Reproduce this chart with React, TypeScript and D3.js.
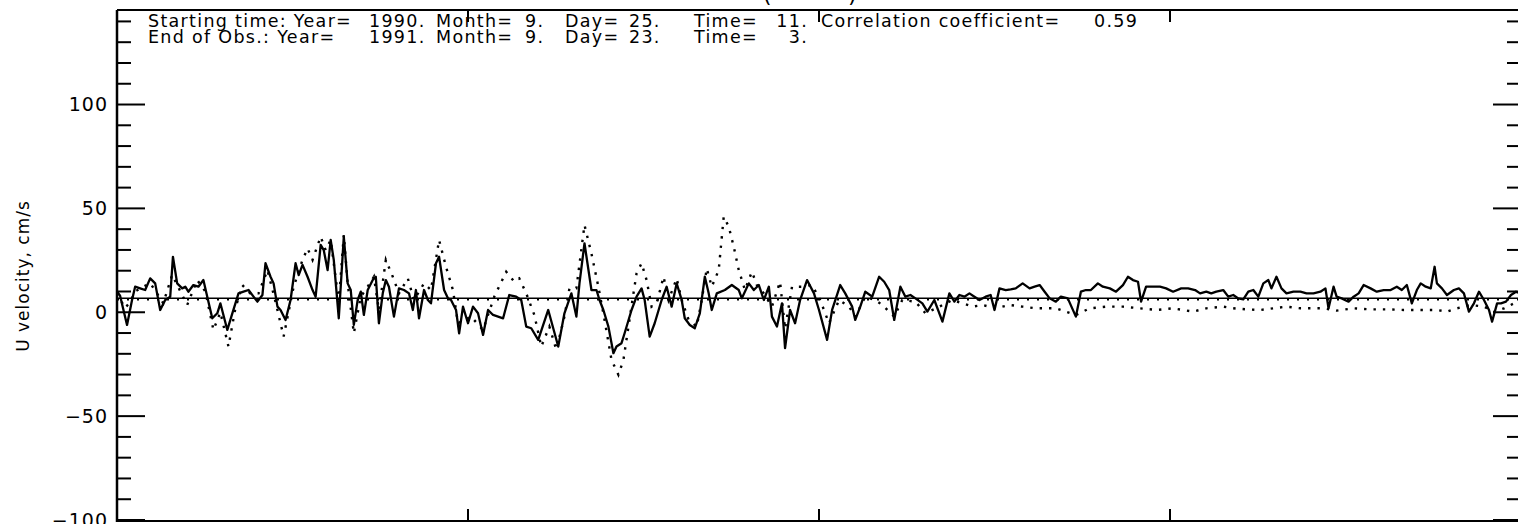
import React from "react";
import * as d3 from "d3";

// ---- record header -------------------------------------------------------
const startTime = { year: 1990, month: 9, day: 25, time: 11 };
const endTime = { year: 1991, month: 9, day: 23, time: 3 };
const correlation = 0.59;

// ---- axes ----------------------------------------------------------------
const yMajorTicks = [-100, -50, 0, 50, 100];
const yMinorTicks = [-90, -80, -70, -60, -40, -30, -20, -10, 10, 20, 30, 40, 60, 70, 80, 90, 110, 120, 130, 140];
const xMajorTicks = [91, 182, 273];
const yLabel = "U velocity, cm/s";

// record means (cm/s)
const meanSolid = 6.7;
const meanDotted = 6.2;

// ---- U velocity, solid record: [day since start, cm/s] ---------------------
const uSolid: [number, number][] = [
  [0.0, 10], [0.8, 8], [2.6, -6.1], [3.9, 5.9], [4.7, 12.3], [6.0, 11.5], [7.3, 10.7], [8.6, 16.3],
  [9.9, 13.9], [11.2, 1.1], [12.5, 5.9], [13.8, 7.5], [14.5, 26.7], [15.6, 13.9], [16.9, 11.5], [17.7, 12.3],
  [18.5, 9.9], [19.8, 13.1], [21.1, 12.3], [22.4, 15.5], [23.4, 7.5], [24.7, -2.9], [26.0, -0.5], [26.8, 4.3],
  [28.6, -8.5], [29.9, -0.5], [31.5, 9.1], [32.8, 9.9], [34.1, 10.7], [35.4, 7.5], [36.4, 5.1], [37.7, 8.3],
  [38.5, 23.6], [39.8, 17.1], [40.6, 13.9], [41.6, 2.7], [42.4, 1.1], [43.7, -3.7], [45.0, 5.9], [46.3, 23.6],
  [47.1, 17.9], [48.1, 22.8], [49.4, 17.1], [50.7, 10.7], [51.5, 7.5], [52.8, 32.4], [53.6, 29.9], [54.6, 20.3],
  [55.4, 34.8], [56.2, 25.2], [57.5, -2.9], [58.8, 36.4], [59.8, 13.9], [60.6, 10.7], [61.4, -6.1], [62.4, 5.9],
  [63.2, 9.9], [64.0, -1.3], [65.0, 10.7], [66.3, 15.5], [67.1, 17.1], [67.9, -5.3], [68.9, 9.1], [69.7, 15.5],
  [70.5, 12.3], [71.8, -2.1], [73.1, 11.5], [74.4, 10.7], [75.7, 9.1], [76.7, 1.1], [77.5, 10.7], [78.3, -2.9],
  [79.6, 10.7], [80.6, 5.9], [81.4, 4.3], [82.7, 23.6], [83.5, 26.7], [84.8, 10.7], [85.8, 6.7], [86.6, 5.9],
  [87.9, 1.1], [88.7, -10.1], [89.7, 2.7], [91.0, -5.3], [92.3, 2.7], [93.6, -0.5], [94.9, -10.9], [96.2, 1.1],
  [97.5, -1.3], [98.8, -2.1], [100.1, -2.9], [101.7, 8.3], [103.5, 7.5], [104.8, 5.9], [106.1, -6.9], [107.4, -7.7],
  [109.2, -13.3], [111.8, 1.1], [114.4, -16.5], [116.0, -0.5], [117.8, 9.1], [119.1, -2.1], [119.9, 13.9], [121.2, 33.2],
  [123.0, 10.7], [124.3, 10.7], [125.1, 5.9], [126.1, 1.1], [127.4, -6.9], [128.7, -19.7], [129.5, -16.5], [130.8, -14.9],
  [131.6, -10.1], [133.4, 1.1], [134.7, 7.5], [136.0, 11.5], [136.8, 5.9], [138.1, -11.7], [139.4, -5.3], [141.2, 5.9],
  [142.5, 12.3], [143.8, 2.7], [145.1, 13.9], [146.4, 5.9], [147.2, -2.9], [148.5, -6.1], [149.8, -7.7], [151.1, -0.5],
  [152.4, 17.1], [153.4, 9.1], [154.2, 1.1], [155.5, 9.1], [157.6, 10.7], [159.4, 13.1], [161.2, 10.7], [162.0, 6.7],
  [163.8, 13.9], [165.1, 10.7], [166.4, 13.1], [167.7, 5.9], [169.0, 12.3], [169.8, -2.1], [171.1, -6.9], [172.4, 4.3],
  [173.2, -17.3], [174.5, 1.1], [175.8, -5.3], [177.1, 5.9], [178.9, 15.5], [180.7, 9.1], [182.0, 1.1], [184.1, -13.3],
  [185.4, 1.1], [187.5, 13.1], [188.8, 9.1], [190.6, 2.7], [191.4, -3.7], [192.7, 2.7], [194.0, 9.9], [195.8, 7.5],
  [197.6, 17.1], [198.9, 14.7], [200.2, 10.7], [201.5, -3.7], [203.1, 12.3], [204.4, 7.5], [205.7, 8.3], [207.0, 6.7],
  [208.8, 4.3], [210.1, 0.3], [211.9, 5.9], [214.0, -4.5], [215.8, 9.1], [217.1, 5.1], [218.4, 8.3], [219.7, 7.5],
  [221.0, 9.1], [222.3, 7.5], [223.6, 5.9], [225.2, 7.5], [226.5, 8.3], [227.5, 1.1], [228.8, 11.5], [230.4, 10.7],
  [231.7, 11.0], [233.0, 11.5], [234.8, 13.9], [236.6, 11.5], [237.9, 12.3], [239.2, 13.1], [240.5, 9.9], [241.8, 6.7],
  [243.4, 5.1], [244.7, 7.5], [246.5, 6.7], [248.6, -2.1], [249.9, 9.9], [251.2, 10.7], [252.5, 10.7], [254.3, 13.9],
  [255.6, 12.3], [257.4, 11.5], [259.0, 9.9], [260.8, 13.1], [262.1, 17.1], [263.4, 15.5], [264.7, 14.7], [265.5, 5.1],
  [266.8, 12.3], [268.6, 12.3], [270.4, 12.3], [272.0, 11.5], [273.8, 9.9], [275.9, 11.5], [277.7, 11.5], [279.5, 10.7],
  [280.8, 9.1], [282.4, 9.9], [283.7, 9.1], [285.0, 9.9], [286.8, 10.7], [288.1, 7.5], [289.4, 8.3], [290.7, 6.7],
  [292.0, 6.2], [293.3, 9.9], [294.6, 10.7], [295.9, 7.5], [297.2, 13.9], [298.5, 15.5], [299.3, 11.5], [300.6, 17.1],
  [301.9, 11.5], [303.2, 9.1], [305.0, 9.9], [306.8, 9.9], [308.4, 9.1], [310.2, 9.1], [312.0, 9.9], [313.3, 11.5],
  [314.1, 1.9], [315.4, 12.3], [316.2, 7.5], [317.5, 6.7], [319.3, 5.1], [320.6, 7.5], [321.9, 9.1], [323.2, 13.1],
  [325.0, 11.5], [326.6, 9.9], [328.4, 10.7], [330.2, 10.7], [331.8, 12.3], [333.1, 10.7], [334.4, 13.1], [335.7, 4.3],
  [337.0, 10.7], [338.0, 13.9], [339.3, 12.3], [340.6, 11.5], [341.6, 21.9], [342.2, 13.9], [343.5, 11.5], [344.8, 8.3],
  [346.6, 10.7], [347.9, 11.5], [349.2, 9.1], [350.5, 0.3], [351.8, 4.3], [353.1, 9.9], [354.4, 5.9], [355.7, 1.1],
  [356.5, -4.5], [357.8, 4.3], [358.8, 4.3], [360.1, 5.1], [361.4, 8.3], [362.7, 9.9], [363.7, 9.1],
];

// ---- U velocity, dotted record: [day since start, cm/s] --------------------
const uDotted: [number, number][] = [
  [0.0, 9], [2.1, 2], [3.4, 5], [4.7, 10], [6.5, 12], [8.6, 14], [10.4, 9], [12.0, 4.3],
  [14.3, 18], [15.9, 12], [18.2, 3.5], [20.8, 15.5], [22.9, 10], [25.0, -8.5], [26.8, 0], [28.9, -16.5],
  [30.7, 2], [32.5, 13.1], [34.6, 9], [36.7, 9.1], [39.0, 20.3], [41.1, 5], [43.2, -11.7], [45.8, 12.3],
  [48.1, 25.2], [49.4, 30.7], [50.7, 25.2], [52.8, 36.4], [54.1, 29.9], [55.4, 34.8], [57.5, 5], [58.8, 37.2],
  [59.8, 14], [61.4, -10.1], [63.2, 7.5], [65.0, 12.3], [66.6, 17.1], [67.9, 1], [69.7, 25.2], [71.5, 17.1],
  [73.1, 9], [75.4, 16.3], [77.0, 5.9], [79.6, 13.9], [81.4, 10.7], [83.5, 34.8], [85.3, 21.9], [87.1, 10.7],
  [88.4, -5.3], [91.8, -2.1], [94.9, -8.5], [97.8, 7.5], [100.9, 19.5], [103.0, 14.7], [104.3, 16.3], [106.1, 9.1],
  [108.2, -1.3], [110.0, -16.5], [112.1, -6.9], [113.9, -18.1], [116.0, -2.1], [117.3, 11.5], [119.1, 11.5], [121.2, 42.0],
  [123.0, 28.3], [124.8, 12.3], [126.4, -3.7], [128.2, -22.9], [130.0, -30.1], [131.3, -22.9], [132.6, -6.9], [133.9, 9.1],
  [134.7, 18.7], [136.0, 23.6], [137.3, 15.5], [138.6, 2.7], [139.9, 4.3], [141.7, 17.1], [143.0, 5.9], [145.1, 16.3],
  [146.4, 5.9], [148.2, -3.7], [150.3, -6.9], [151.6, 5.9], [152.9, 21.1], [154.2, 12.3], [156.0, 20.3], [157.3, 46.0],
  [158.6, 41.2], [159.9, 31.5], [161.2, 20.3], [162.8, 10.7], [164.6, 19.5], [165.9, 13.1], [167.7, 9.1], [169.8, 2.7],
  [171.9, 14.7], [173.2, -8], [175.0, 12.3], [177.6, 12.3], [180.2, 13.1], [182.3, 5.9], [184.6, -5.3], [187.2, 5.9],
  [189.8, 2.7], [191.4, -2.1], [194.0, 7.5], [196.6, 5.9], [198.4, 3.5], [201.5, -2.1], [203.6, 5.9], [207.0, 5.1],
  [209.6, -0.5], [213.2, 2.7], [216.6, 5.9], [219.2, 4.3], [221.8, 2.7], [224.4, 3.5], [227.8, 1.9], [231.4, 3.5],
  [234.8, 2.7], [238.2, 1.9], [243.4, 1.9], [248.6, -1.3], [252.2, 1.9], [256.4, 2.7], [260.8, 2.7], [265.2, 1.9],
  [269.4, 1.1], [273.8, 1.9], [276.4, 1.1], [279.0, 0.3], [282.4, 1.9], [286.8, 2.7], [289.4, 1.9], [292.8, 1.4],
  [296.4, 1.1], [299.8, 1.9], [303.2, 2.7], [306.8, 1.9], [310.2, 1.9], [312.8, 1.9], [316.2, 0.8], [320.6, 1.9],
  [325.0, 1.4], [329.2, 1.4], [333.6, 1.1], [338.0, 1.1], [342.2, 1.1], [344.8, 0.3], [347.4, 1.9], [351.0, 3.5],
  [354.4, 2.7], [357.0, 0.3], [359.6, 1.9], [362.2, 4.3], [363.7, 4.3],
];

const WIDTH = 1518;
const HEIGHT = 524;
const FRAME = { left: 117, right: 1521, top: 10, bottom: 520 };
const FONT = "'DejaVu Sans', 'Liberation Sans', sans-serif";

export default function App() {
  const x = d3.scaleLinear().domain([0, 364]).range([FRAME.left, FRAME.right]);
  const y = d3.scaleLinear().domain([-100, 145.5]).range([FRAME.bottom, FRAME.top]);

  const line = d3
    .line<[number, number]>()
    .x((d) => x(d[0]))
    .y((d) => y(d[1]))
    .curve(d3.curveLinear);

  const headerRows = [
    { lead: "Starting time: Year=", t: startTime, withCorrelation: true },
    { lead: "End of Obs.: Year=", t: endTime, withCorrelation: false },
  ];
  // column positions of the header fields
  const col = {
    lead: 148, year: 369, monthLbl: 436, month: 525, dayLbl: 565, day: 629,
    timeLbl: 694, timeEnd: 808, corr: 821, corrVal: 1094,
  };

  return (
    <svg
      width={WIDTH}
      height={HEIGHT}
      style={{ position: "absolute", left: 0, top: 0, background: "#fff" }}
      fontFamily={FONT}
    >
      <defs>
        <clipPath id="plot-area">
          <rect x={FRAME.left} y={FRAME.top} width={FRAME.right - FRAME.left} height={FRAME.bottom - FRAME.top} />
        </clipPath>
      </defs>

      {/* title, mostly above the page */}
      <text x={763} y={2} fontSize={22} fill="#000">(</text>
      <text x={848} y={2} fontSize={22} fill="#000">)</text>

      {/* header */}
      {headerRows.map((r, i) => {
        const by = 27 + i * 16;
        return (
          <g key={i} fontSize={17.5} letterSpacing={1.3} fill="#000">
            <text x={col.lead} y={by}>{r.lead}</text>
            <text x={col.year} y={by}>{`${r.t.year}.`}</text>
            <text x={col.monthLbl} y={by}>Month=</text>
            <text x={col.month} y={by}>{`${r.t.month}.`}</text>
            <text x={col.dayLbl} y={by}>Day=</text>
            <text x={col.day} y={by}>{`${r.t.day}.`}</text>
            <text x={col.timeLbl} y={by}>Time=</text>
            <text x={col.timeEnd} y={by} textAnchor="end">{`${r.t.time}.`}</text>
            {r.withCorrelation && (
              <>
                <text x={col.corr} y={by}>Correlation coefficient=</text>
                <text x={col.corrVal} y={by}>{correlation.toFixed(2)}</text>
              </>
            )}
          </g>
        );
      })}

      {/* series */}
      <g clipPath="url(#plot-area)" fill="none" stroke="#000">
        <line x1={FRAME.left} x2={FRAME.right} y1={y(meanSolid)} y2={y(meanSolid)} strokeWidth={1.5} />
        <line
          x1={FRAME.left}
          x2={FRAME.right}
          y1={y(meanDotted)}
          y2={y(meanDotted)}
          strokeWidth={2}
          strokeDasharray="2 8"
        />
        <path d={line(uDotted) ?? ""} strokeWidth={2.4} strokeDasharray="2.4 7" />
        <path d={line(uSolid) ?? ""} strokeWidth={2.3} strokeLinejoin="round" />
      </g>

      {/* frame */}
      <g stroke="#000" fill="none">
        <line x1={FRAME.left} x2={FRAME.right} y1={FRAME.top} y2={FRAME.top} strokeWidth={2} />
        <line x1={FRAME.left} x2={FRAME.right} y1={FRAME.bottom + 1} y2={FRAME.bottom + 1} strokeWidth={2} />
        <line x1={FRAME.left} x2={FRAME.left} y1={FRAME.top} y2={FRAME.bottom + 2} strokeWidth={2.5} />
        <line x1={FRAME.right} x2={FRAME.right} y1={FRAME.top} y2={FRAME.bottom + 2} strokeWidth={2.5} />

        {yMajorTicks.map((v) => (
          <g key={`M${v}`} strokeWidth={2}>
            <line x1={FRAME.left} x2={FRAME.left + 28} y1={y(v)} y2={y(v)} />
            <line x1={FRAME.right - 28} x2={FRAME.right} y1={y(v)} y2={y(v)} />
          </g>
        ))}
        {yMinorTicks.map((v) => (
          <g key={`m${v}`} strokeWidth={2}>
            <line x1={FRAME.left} x2={FRAME.left + 14} y1={y(v)} y2={y(v)} />
            <line x1={FRAME.right - 14} x2={FRAME.right} y1={y(v)} y2={y(v)} />
          </g>
        ))}
        {xMajorTicks.map((d) => (
          <g key={`x${d}`} strokeWidth={2}>
            <line x1={x(d)} x2={x(d)} y1={FRAME.top} y2={FRAME.top + 12} />
            <line x1={x(d)} x2={x(d)} y1={FRAME.bottom + 1} y2={FRAME.bottom - 11} />
          </g>
        ))}
      </g>

      {/* y tick labels */}
      <g fontSize={19} letterSpacing={1} fill="#000" textAnchor="end">
        {yMajorTicks.map((v) => (
          <text key={v} x={108} y={y(v)} dy="0.36em">
            {v < 0 ? `\u2212${Math.abs(v)}` : `${v}`}
          </text>
        ))}
      </g>

      {/* y axis title */}
      <text
        transform={`translate(29, 276) rotate(-90)`}
        fontSize={17}
        letterSpacing={1}
        textAnchor="middle"
        fill="#000"
      >
        {yLabel}
      </text>
    </svg>
  );
}
